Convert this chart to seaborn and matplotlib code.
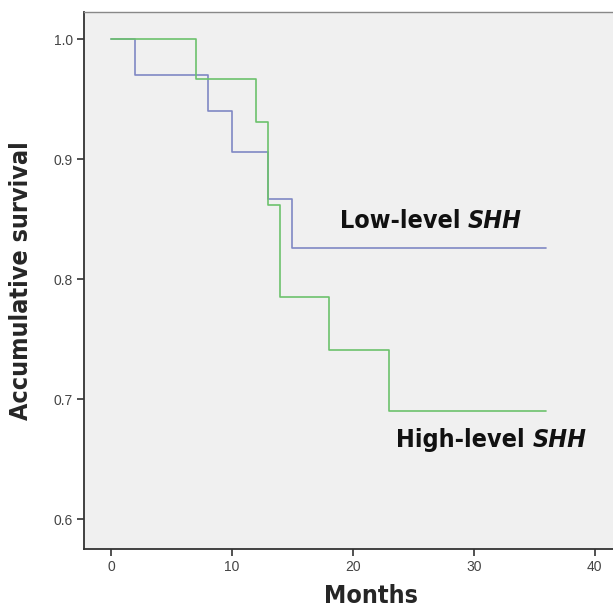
import pandas as pd
import matplotlib
matplotlib.use("Agg")
import matplotlib.pyplot as plt
from matplotlib import font_manager
from matplotlib.font_manager import FontProperties
import seaborn as sns

# =====================================
# DATA
# =====================================

low_months = [0, 2, 8, 10, 13, 15, 36]
low_survival = [1.0, 0.970, 0.940, 0.906, 0.867, 0.826, 0.826]

high_months = [0, 7, 12, 13, 14, 18, 23, 36]
high_survival = [1.0, 0.967, 0.931, 0.862, 0.785, 0.741, 0.690, 0.690]

groups = ["Low-level", "High-level"]
x_ticks = [0, 10, 20, 30, 40]
y_ticks = [0.6, 0.7, 0.8, 0.9, 1.0]

df = pd.concat([
    pd.DataFrame({"Months": low_months, "Survival": low_survival, "Group": groups[0]}),
    pd.DataFrame({"Months": high_months, "Survival": high_survival, "Group": groups[1]}),
])

# =====================================
# FONTS - look for a narrow / condensed bold face
# =====================================

def find_font(italic):
    hits = []
    for f in font_manager.fontManager.ttflist:
        name = f.fname.lower()
        if not ("narrow" in name or "condensed" in name):
            continue
        if "bold" not in name:
            continue
        if ("italic" in name or "oblique" in name) != italic:
            continue
        if "semi" in name or "extra" in name:
            continue
        rank = 0 if "liberation" in name else 1
        hits.append((rank, f.fname))
    hits.sort()
    return hits[0][1] if hits else None

bold_file = find_font(False)
italic_file = find_font(True)
print("narrow bold:", bold_file, italic_file)

sns.set_style("white")
plt.rcParams["font.family"] = ["Liberation Sans", "DejaVu Sans"]

def label_font(italic=False):
    path = italic_file if italic else bold_file
    if path:
        return FontProperties(fname=path, size=18)
    return FontProperties(family="Liberation Sans", weight="bold",
                          style="italic" if italic else "normal", size=17)

# =====================================
# PLOT
# =====================================

fig = plt.figure(figsize=(6.13, 6.08), dpi=100)
ax = fig.add_axes([0.137, 0.097, 0.936, 0.883])
ax.set_facecolor("#f0f0f0")

sns.lineplot(
    data=df,
    x="Months",
    y="Survival",
    hue="Group",
    palette={"Low-level": "#8088c4", "High-level": "#6cc26c"},
    drawstyle="steps-post",
    estimator=None,
    linewidth=1.2,
    legend=False,
    ax=ax,
)

ax.set_xlim(-2.23, 45.2)
ax.set_ylim(0.575, 1.0225)
ax.set_xticks(x_ticks)
ax.set_yticks(y_ticks)
ax.set_xticklabels([str(t) for t in x_ticks])
ax.set_yticklabels([f"{t:.1f}" for t in y_ticks])

ax.tick_params(axis="both", direction="out", length=5, width=1.2,
               color="#333333", labelsize=10, labelcolor="#444444", pad=3,
               bottom=True, left=True)

for side in ["left", "bottom"]:
    ax.spines[side].set_color("#333333")
    ax.spines[side].set_linewidth(1.3)
ax.spines["top"].set_color("#888888")
ax.spines["top"].set_linewidth(1.0)
ax.spines["right"].set_visible(False)

ax.set_xlabel("Months", fontproperties=label_font(), labelpad=7)
ax.set_ylabel("Accumulative survival", fontproperties=label_font(), labelpad=15)

# =====================================
# CURVE LABELS
# =====================================

fig.canvas.draw()
renderer = fig.canvas.get_renderer()

for label, x0, y0 in [("Low-level ", 18.9, 0.8425), ("High-level ", 23.6, 0.660)]:
    t = ax.text(x0, y0, label, fontproperties=label_font(),
                color="#111111", ha="left", va="baseline")
    bb = t.get_window_extent(renderer)
    ax.annotate("SHH", xy=(x0, y0), xytext=(bb.width, 0), textcoords="offset pixels",
                fontproperties=label_font(italic=True),
                color="#111111", ha="left", va="baseline")

fig.savefig("out.png", dpi=100)
